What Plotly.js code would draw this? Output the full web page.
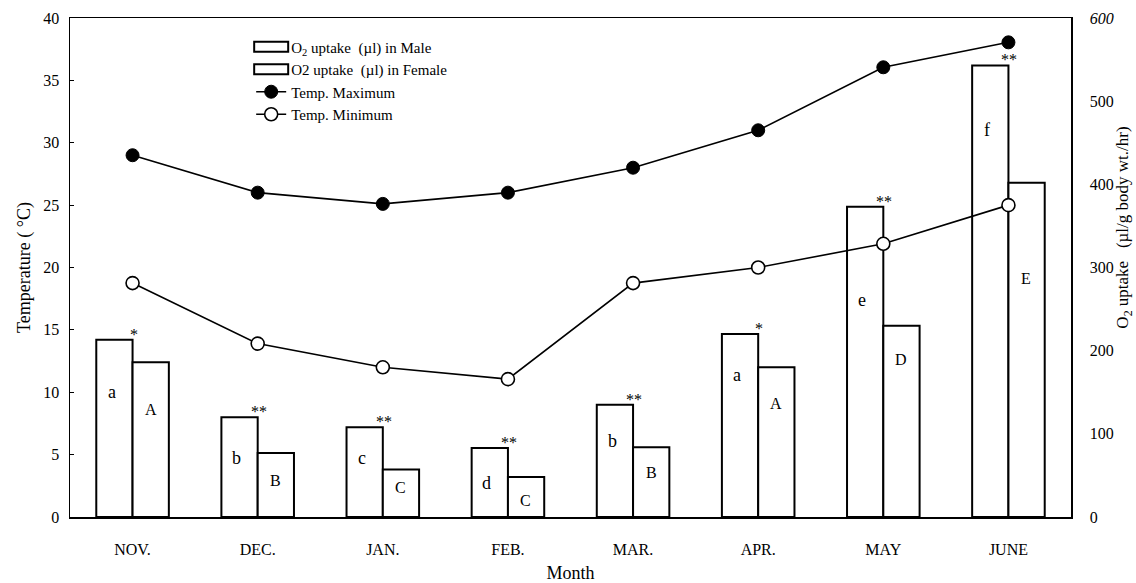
<!DOCTYPE html>
<html><head><meta charset="utf-8">
<script src="https://cdn.plot.ly/plotly-3.0.1.min.js"></script>
<style>body{margin:0;background:#fff}#c{width:1136px;height:583px}</style>
</head><body><div id="c"></div>
<script>
const months = ["NOV.","DEC.","JAN.","FEB.","MAR.","APR.","MAY","JUNE"];
const o2Male   = [213,120,108,83,135,220,373,543];
const o2Female = [186,77,57,48,84,180,230,402];
const tempMax  = [29,26,25.1,26,28,31,36.05,38.05];
const tempMin  = [18.75,13.9,12,11.05,18.75,20,21.9,25];
const maleLetters   = ["a","b","c","d","b","a","e","f"];
const femaleLetters = ["A","B","C","C","B","A","D","E"];
const maleLetterY   = [150,71,71,41,91,171,261,465];
const femaleLetterY = [129,44,35,20,53,137,189,287];
const signif = ["*","**","**","**","**","*","**","**"];
const rightTicks = [0,100,200,300,400,500,600];
const rightTickText = ["0","100","200","300","400","500","<i>600</i>"];

const F = "Liberation Serif, Times New Roman, serif";
const barStyle = {color:"#fff", line:{color:"#000", width:2}};
const traces = [
 {type:"bar", x:months, y:o2Male, name:"O<sub>2</sub> uptake  (µl) in Male", marker:barStyle, yaxis:"y", offsetgroup:"m"},
 {type:"bar", x:months, y:o2Female, name:"O2 uptake  (µl) in Female", marker:barStyle, yaxis:"y", offsetgroup:"f"},
 {type:"scatter", mode:"lines+markers", x:months, y:tempMax, name:"Temp. Maximum", yaxis:"y2",
  line:{color:"#000", width:1.6}, marker:{symbol:"circle", size:13, color:"#000", line:{color:"#000", width:1}}},
 {type:"scatter", mode:"lines+markers", x:months, y:tempMin, name:"Temp. Minimum", yaxis:"y2",
  line:{color:"#000", width:1.6}, marker:{symbol:"circle", size:13, color:"#fff", line:{color:"#000", width:1.6}}}
];

const ann = [];
months.forEach((m,i)=>{
  ann.push({x:m, y:maleLetterY[i], xref:"x", yref:"y", text:maleLetters[i], showarrow:false, xshift:-21, font:{family:F,size:18,color:"#000"}});
  ann.push({x:m, y:femaleLetterY[i], xref:"x", yref:"y", text:femaleLetters[i], showarrow:false, xshift:18, font:{family:F,size:16,color:"#000"}});
  ann.push({x:m, y:o2Male[i], xref:"x", yref:"y", text:signif[i], showarrow:false, yanchor:"bottom", xshift:1, yshift:-5, font:{family:F,size:16,color:"#000"}});
});
ann.push({xref:"paper", yref:"paper", x:1.053, y:0.58, textangle:-90, showarrow:false, xanchor:"center", yanchor:"middle",
  text:"O<sub>2</sub> uptake   (µl/g body wt./hr)", font:{family:F,size:17,color:"#000"}});

const layout = {
  width:1136, height:583, margin:{l:70, r:65, t:18, b:66},
  paper_bgcolor:"#fff", plot_bgcolor:"#fff", font:{family:F, size:16, color:"#000"},
  barmode:"group", bargap:0.42, bargroupgap:0, showlegend:true,
  legend:{x:0.181, y:0.975, xanchor:"left", yanchor:"top", bgcolor:"rgba(0,0,0,0)", font:{family:F,size:15}, tracegroupgap:0, itemwidth:30},
  xaxis:{type:"category", range:[-0.5,7.5], showline:true, linecolor:"#000", linewidth:1.5, mirror:true,
    ticks:"", ticklabelstandoff:17, tickfont:{family:F,size:16}, showgrid:false,
    title:{text:"Month", font:{family:F,size:18}, standoff:10}},
  yaxis:{side:"right", range:[0,600], tickvals:rightTicks, ticktext:rightTickText,
    showline:true, linecolor:"#000", linewidth:1.5, ticks:"", showgrid:false, zeroline:false,
    tickfont:{family:F,size:16}, ticklabelstandoff:14},
  yaxis2:{overlaying:"y", side:"left", range:[0,40], dtick:5, showline:true, linecolor:"#000", linewidth:1.5,
    ticks:"inside", ticklen:4, tickcolor:"#000", showgrid:false, zeroline:false, tickfont:{family:F,size:16}, ticklabelstandoff:6,
    title:{text:"Temperature ( °C)", font:{family:F,size:18}, standoff:8}},
  annotations:ann
};
Plotly.newPlot("c", traces, layout, {displayModeBar:false, staticPlot:true}).then(gd=>{
  // widen bar legend symbols into flat rectangles like the reference
  gd.querySelectorAll(".legend .traces").forEach((t,i)=>{
    if(i<2){
      t.querySelectorAll(".legendpoints path").forEach(p=>{
        p.setAttribute("d","M17,5H-17V-5H17Z");
        p.style.strokeWidth="2px";
      });
    }
  });
});
</script></body></html>
